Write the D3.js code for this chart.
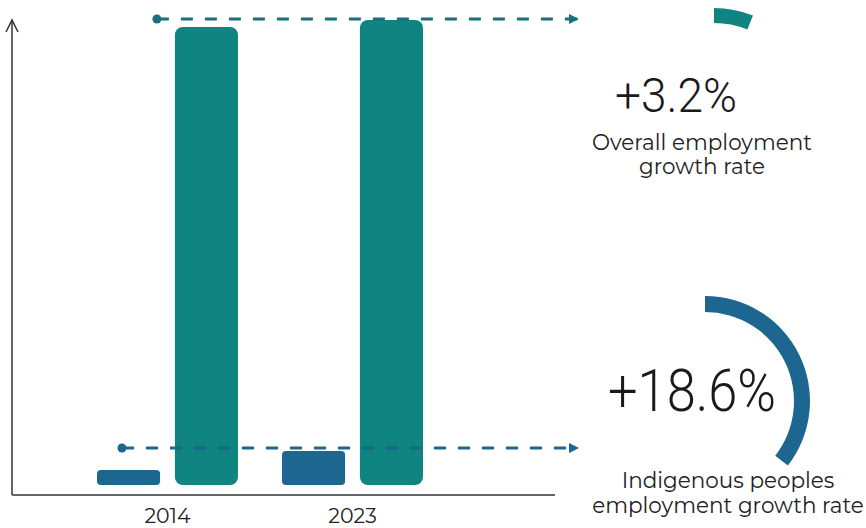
<!DOCTYPE html>
<html>
<head>
<meta charset="utf-8">
<script src="https://cdn.jsdelivr.net/npm/d3@7"></script>
<style>
  html, body { margin: 0; padding: 0; background: #ffffff; }
  svg { display: block; }
  .lbl { font-family: "Montserrat", "Open Sans", sans-serif; fill: #222222; }
  .big { font-family: "Roboto", sans-serif; font-weight: 300; fill: #1a1a1a; }
</style>
</head>
<body>
<div id="chart"></div>
<script>
// Data (bar heights, relative units; chart is not to scale)
const years = ["2014", "2023"];
const series = ["indigenous", "overall"];
const indigenousValues = [3.2, 7.3];
const overallValues = [98.5, 100];
const growthRates = [3.2, 18.6];   // overall, indigenous
const growthLabels = [
    ["Overall employment", "growth rate"],
    ["Indigenous peoples", "employment growth rate"]
];

const width = 866, height = 528;
const teal = "#0f8481";
const blue = "#1d6690";

const svg = d3.select("#chart")
    .append("svg")
    .attr("width", width)
    .attr("height", height);

// Scales
const x0 = d3.scaleBand()
    .domain(years)
    .range([97, 423])
    .paddingInner(0.238)
    .paddingOuter(0);

const x1 = d3.scaleBand()
    .domain(series)
    .range([0, x0.bandwidth()])
    .paddingInner(0.19);

const y = d3.scaleLinear()
    .domain([0, 100])
    .range([485, 20]);

const color = d3.scaleOrdinal()
    .domain(series)
    .range([blue, teal]);

const rows = years.map((yr, i) => ({
    year: yr,
    values: [
        { key: "indigenous", value: indigenousValues[i] },
        { key: "overall", value: overallValues[i] }
    ]
}));

// Bars
const groups = svg.append("g")
    .selectAll("g")
    .data(rows)
    .enter()
    .append("g")
    .attr("transform", d => `translate(${x0(d.year)},0)`);

groups.selectAll("rect")
    .data(d => d.values)
    .enter()
    .append("rect")
    .attr("x", d => x1(d.key))
    .attr("y", d => y(d.value))
    .attr("width", x1.bandwidth())
    .attr("height", d => y(0) - y(d.value))
    .attr("rx", d => d.key === "overall" ? 8 : 4)
    .style("fill", d => color(d.key));

// Axes (custom, arrow on y)
const axisColor = "#333333";
svg.append("line")
    .attr("x1", 12).attr("y1", 495)
    .attr("x2", 555).attr("y2", 495)
    .style("stroke", axisColor)
    .style("stroke-width", 1.5);

svg.append("line")
    .attr("x1", 12).attr("y1", 495)
    .attr("x2", 12).attr("y2", 20)
    .style("stroke", axisColor)
    .style("stroke-width", 1.5);

svg.append("path")
    .attr("d", "M6,32 L12,20 L18,32")
    .style("fill", "none")
    .style("stroke", axisColor)
    .style("stroke-width", 1.5);

// Year labels
const xAxis = svg.append("g")
    .attr("transform", "translate(0,505)")
    .call(d3.axisBottom(x0).tickSize(0));
xAxis.select(".domain").remove();
xAxis.selectAll("text")
    .attr("class", "lbl")
    .attr("dy", 0)
    .attr("y", 18)
    .style("font-size", "20.5px")
    .style("fill", "#222222");

// Dashed reference arrows (drawn on top of bars)
const defs = svg.append("defs");
[["arrTeal", "#1a6f80"], ["arrBlue", blue]].forEach(([id, c]) => {
    defs.append("marker")
        .attr("id", id)
        .attr("viewBox", "0 0 10 10")
        .attr("refX", 9)
        .attr("refY", 5)
        .attr("markerWidth", 10)
        .attr("markerHeight", 10)
        .attr("markerUnits", "userSpaceOnUse")
        .attr("orient", "auto")
        .append("path")
        .attr("d", "M0,0 L10,5 L0,10 Z")
        .style("fill", c);
});

const refLines = [
    { x: x0("2014") + x1("overall") - 18, y: y(d3.max(overallValues)) - 1, c: "#1a6f80", m: "arrTeal" },
    { x: x0("2014") + x1("indigenous") + 25, y: y(indigenousValues[1]) - 3, c: blue, m: "arrBlue" }
];

refLines.forEach(r => {
    svg.append("line")
        .attr("x1", r.x).attr("y1", r.y)
        .attr("x2", 578).attr("y2", r.y)
        .style("stroke", r.c)
        .style("stroke-width", 3)
        .style("stroke-dasharray", "12,12")
        .attr("marker-end", `url(#${r.m})`);
    svg.append("circle")
        .attr("cx", r.x)
        .attr("cy", r.y)
        .attr("r", 4.5)
        .style("fill", r.c);
});

// Growth gauges
const angle = d3.scaleLinear()
    .domain([0, 20])
    .range([0, 2.4]);

const gauges = [
    { cx: 714, cy: 112, r0: 89, r1: 104, c: teal, value: growthRates[0] },
    { cx: 705, cy: 401, r0: 89, r1: 105, c: blue, value: growthRates[1] }
];

gauges.forEach(g => {
    svg.append("path")
        .attr("transform", `translate(${g.cx},${g.cy})`)
        .attr("d", d3.arc()
            .innerRadius(g.r0)
            .outerRadius(g.r1)
            .startAngle(0)
            .endAngle(angle(g.value))())
        .style("fill", g.c);
});

// Big numbers
const bigText = [
    { x: 676, y: 112, size: 48, len: 122, v: growthRates[0] },
    { x: 692, y: 411, size: 60, len: 168, v: growthRates[1] }
];
bigText.forEach(b => {
    svg.append("text")
        .attr("class", "big")
        .attr("x", b.x)
        .attr("y", b.y)
        .attr("text-anchor", "middle")
        .attr("textLength", b.len)
        .attr("lengthAdjust", "spacingAndGlyphs")
        .style("font-size", b.size + "px")
        .text(`+${b.v}%`);
});

// Captions
const captionPos = [
    { x: 702, y: [150, 174] },
    { x: 728, y: [488, 513] }
];
growthLabels.forEach((lines, i) => {
    lines.forEach((t, j) => {
        svg.append("text")
            .attr("class", "lbl")
            .attr("x", captionPos[i].x)
            .attr("y", captionPos[i].y[j])
            .attr("text-anchor", "middle")
            .style("font-size", "21.5px")
            .text(t);
    });
});
</script>
</body>
</html>
